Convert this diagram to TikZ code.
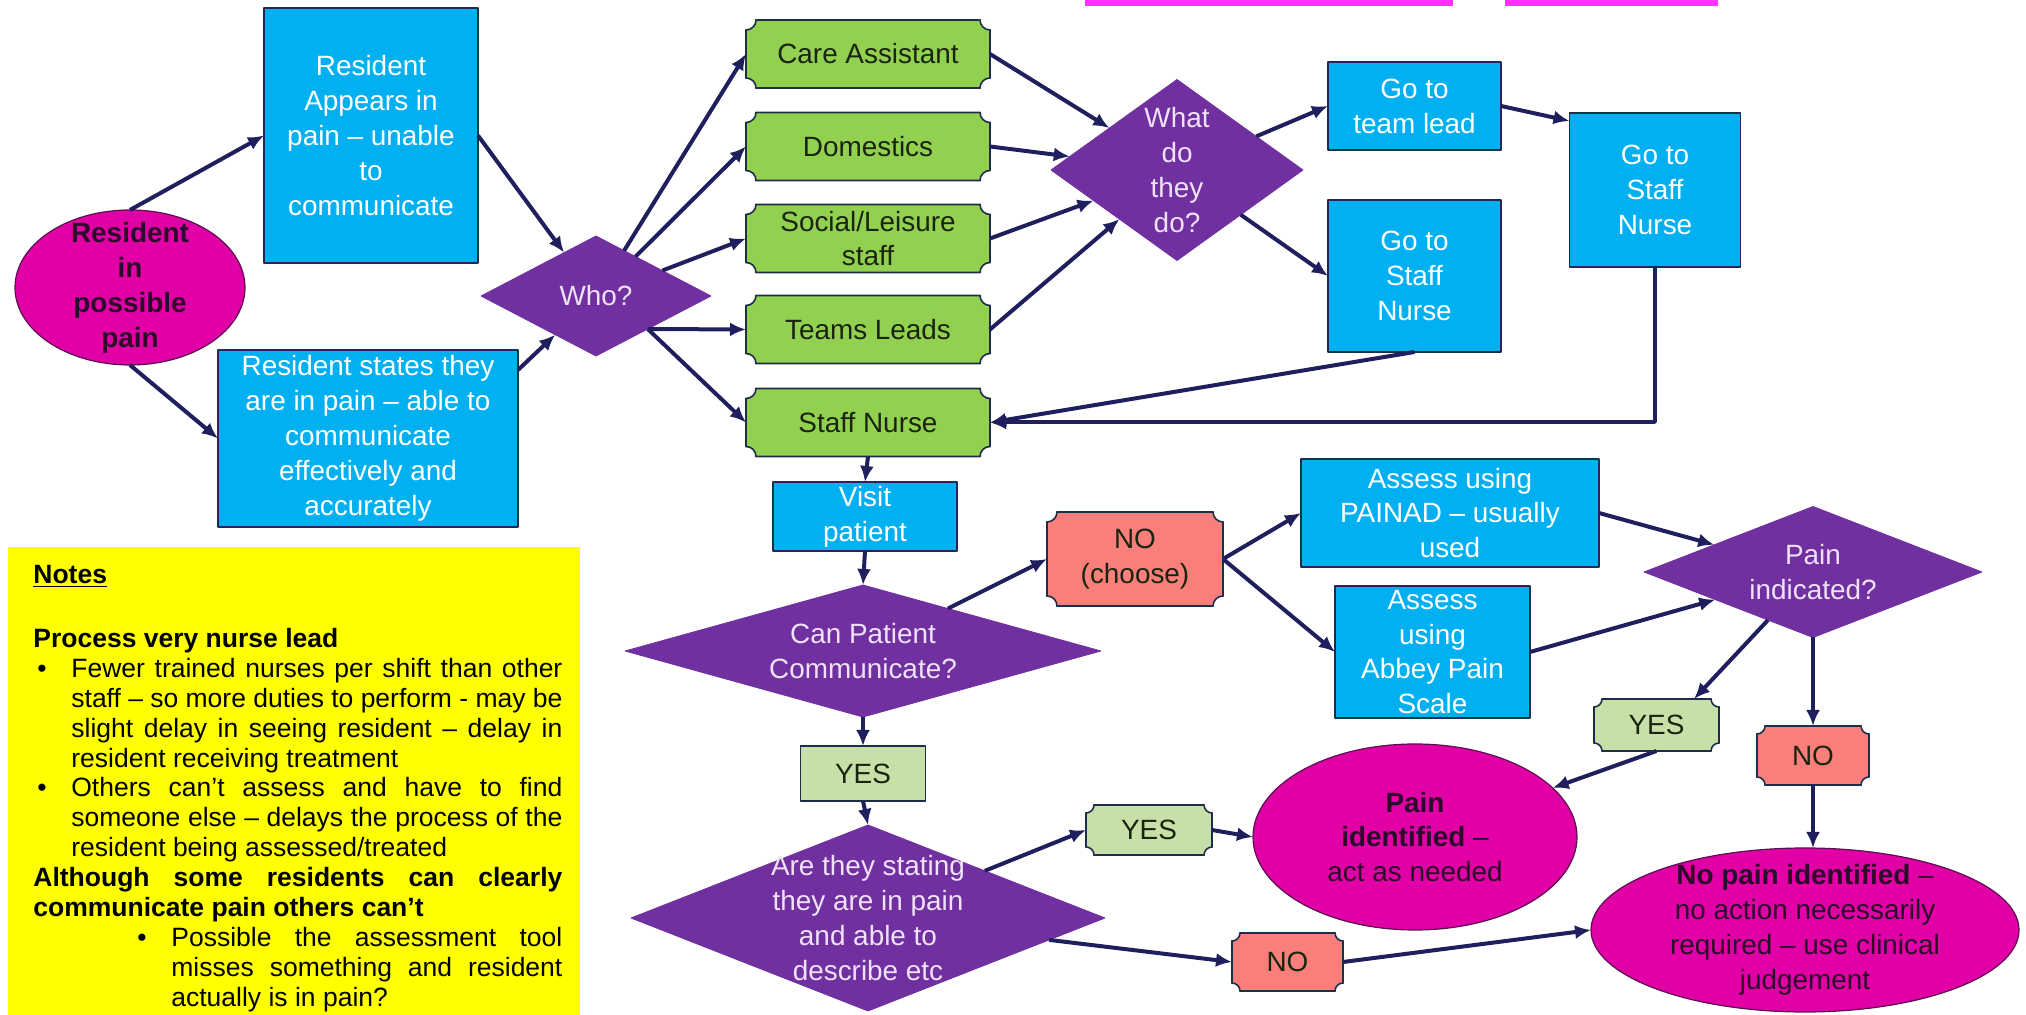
\documentclass[tikz,border=0pt]{standalone}
\usepackage{fontspec}
\setmainfont{Liberation Sans}
\usetikzlibrary{shapes.geometric,arrows.meta,calc,backgrounds}
\definecolor{arrownavy}{HTML}{1F1F5E}
\definecolor{boxline}{HTML}{1F2D4D}
\definecolor{cyanblue}{HTML}{00B0F0}
\definecolor{staffgreen}{HTML}{92D050}
\definecolor{paleyes}{HTML}{C6E0A8}
\definecolor{nosalmon}{HTML}{F9807A}
\definecolor{decpurple}{HTML}{7030A0}
\definecolor{lavender}{HTML}{F0E1FA}
\definecolor{bubblemag}{HTML}{E000A5}
\definecolor{bubbleline}{HTML}{5A1050}
\definecolor{bubbleink}{HTML}{2B0A2A}
\definecolor{darkink}{HTML}{1A2410}
\definecolor{notefill}{HTML}{FFFF00}
\definecolor{hilite}{HTML}{FF33FF}
\newcommand{\notebullet}[2]{\par\noindent\hangindent=#2\hangafter=1\makebox[#2][l]{\hspace{#1}\textbullet}\ignorespaces}
\begin{document}
\begin{tikzpicture}[>={Latex[length=8bp,width=7bp]},line join=bevel,
  bodyfont/.style={font=\fontsize{14}{17.5}\selectfont},
  bluebox/.style={rectangle,draw=boxline,line width=0.8bp,fill=cyanblue,text=white,align=center,inner sep=0pt,outer sep=0pt,bodyfont},
  staffbox/.style={rectangle,inner sep=0pt,outer sep=0pt,align=center,text=darkink,bodyfont},
  yesbox/.style={rectangle,draw=boxline,line width=0.8bp,fill=paleyes,inner sep=0pt,outer sep=0pt,text=darkink,bodyfont},
  decision/.style={diamond,fill=decpurple,draw=decpurple,inner sep=0pt,outer sep=0pt},
  dectext/.style={align=center,text=lavender,inner sep=0pt,bodyfont},
  bubble/.style={ellipse,fill=bubblemag,draw=bubbleline,line width=0.6bp,inner sep=0pt,outer sep=0pt},
  bubbletext/.style={align=center,text=bubbleink,inner sep=0pt,bodyfont},
  notetext/.style={text width=264.5bp,align=justify,inner sep=0pt,text=black,font=\fontsize{13.3}{15}\selectfont},
  plaque/.style={draw=boxline,line width=0.8bp,fill=#1},
  flow/.style={draw=arrownavy,line width=2bp,->},
]
%%
\useasboundingbox (0bp,0bp) rectangle (1013bp,507.5bp);
\fill [hilite] (542.5bp,504.5bp) rectangle (726.5bp,507.5bp);
\fill [hilite] (752.5bp,504.5bp) rectangle (859.0bp,507.5bp);
\fill [notefill] (4.0bp,0bp) rectangle (290.0bp,234.0bp);
\node (notes) at (16.5bp,225.0bp) [notetext,anchor=north west] {%
  \hyphenpenalty=10000\exhyphenpenalty=10000
  \textbf{\underline{Notes}}\par
  \vspace{17bp}
  \textbf{Process very nurse lead}\par
  \notebullet{2bp}{19bp}Fewer trained nurses per shift than other staff -- so more duties to perform - may be slight delay in seeing resident -- delay in resident receiving treatment\par
  \notebullet{2bp}{19bp}Others can't assess and have to find someone else -- delays the process of the resident being assessed/treated\par
  \textbf{Although some residents can clearly communicate pain others can't}\par
  \notebullet{52bp}{69bp}Possible the assessment tool misses something and resident actually is in pain?\par};
%
\node (res_pain) at (65.0bp,363.75bp) [bubble,minimum width=115bp,minimum height=77.5bp,label={[bubbletext,font=\fontsize{14}{17.5}\selectfont\bfseries,name=res_pain_txt]center:{Resident\\in\\possible\\pain}}] {};
  \node (res_appears) at (185.5bp,439.75bp) [bluebox,minimum width=107bp,minimum height=127.5bp] {Resident\\Appears in\\pain -- unable\\to\\communicate};
  \node (res_states) at (184.0bp,288.25bp) [bluebox,minimum width=150bp,minimum height=88.5bp] {Resident states they\\are in pain -- able to\\communicate\\effectively and\\accurately};
  \node (who) at (298.0bp,359.5bp) [decision,minimum width=115bp,minimum height=60bp,label={[dectext,name=who_txt]center:Who?}] {};
  \node (care_asst) at (434.0bp,480.5bp) [staffbox,minimum width=122bp,minimum height=34bp] {Care Assistant};
  \node (domestics) at (434.0bp,434.25bp) [staffbox,minimum width=122bp,minimum height=34bp] {Domestics};
  \node (social) at (434.0bp,388.25bp) [staffbox,minimum width=122bp,minimum height=34bp] {Social/Leisure\\staff};
  \node (team_leads) at (434.0bp,342.75bp) [staffbox,minimum width=122bp,minimum height=34bp] {Teams Leads};
  \node (staff_nurse) at (434.0bp,296.25bp) [staffbox,minimum width=122bp,minimum height=34bp] {Staff Nurse};
  \node (what_do) at (588.5bp,422.5bp) [decision,minimum width=126bp,minimum height=90.5bp,label={[dectext,name=what_do_txt]center:{What\\do\\they\\do?}}] {};
  \node (goto_lead) at (707.25bp,454.5bp) [bluebox,minimum width=86.5bp,minimum height=44bp] {Go to\\team lead};
  \node (goto_nurse_a) at (707.25bp,369.5bp) [bluebox,minimum width=86.5bp,minimum height=76bp] {Go to\\Staff\\Nurse};
  \node (goto_nurse_b) at (827.5bp,412.5bp) [bluebox,minimum width=85.5bp,minimum height=77bp] {Go to\\Staff\\Nurse};
  \node (visit) at (432.5bp,249.25bp) [bluebox,minimum width=92bp,minimum height=34.5bp] {Visit\\patient};
  \node (can_comm) at (431.5bp,182.0bp) [decision,minimum width=238bp,minimum height=66bp,label={[dectext,name=can_comm_txt]center:{Can Patient\\Communicate?}}] {};
  \node (yes_a) at (431.5bp,120.75bp) [yesbox,minimum width=62.5bp,minimum height=27.5bp] {YES};
  \node (stating) at (434.0bp,48.5bp) [decision,minimum width=237bp,minimum height=93bp,label={[dectext,name=stating_txt]center:{Are they stating\\they are in pain\\and able to\\describe etc}}] {};
  \node (no_choose) at (567.5bp,228.0bp) [staffbox,minimum width=88bp,minimum height=47bp] {NO\\(choose)};
  \node (painad) at (725.0bp,251.0bp) [bluebox,minimum width=149bp,minimum height=54bp] {Assess using\\PAINAD -- usually\\used};
  \node (abbey) at (716.25bp,181.5bp) [bluebox,minimum width=97.5bp,minimum height=66bp] {Assess\\using\\Abbey Pain\\Scale};
  \node (pain_ind) at (906.5bp,221.5bp) [decision,minimum width=169bp,minimum height=65.5bp,label={[dectext,name=pain_ind_txt]center:{Pain\\indicated?}}] {};
  \node (yes_b) at (828.25bp,145.0bp) [staffbox,minimum width=62.5bp,minimum height=26bp] {YES};
  \node (no_b) at (906.5bp,129.75bp) [staffbox,minimum width=56bp,minimum height=29.5bp] {NO};
  \node (pain_id) at (707.5bp,89.0bp) [bubble,minimum width=162bp,minimum height=93bp,label={[bubbletext,name=pain_id_txt]center:{\textbf{Pain}\\\textbf{identified} --\\act as needed}}] {};
  \node (no_pain) at (902.5bp,42.5bp) [bubble,minimum width=214bp,minimum height=82bp,label={[bubbletext,name=no_pain_txt]center:{\textbf{No pain identified} --\\no action necessarily\\required -- use clinical\\judgement}}] {};
  \node (yes_c) at (574.5bp,92.5bp) [staffbox,minimum width=63bp,minimum height=25bp] {YES};
  \node (no_c) at (643.75bp,26.5bp) [staffbox,minimum width=55.5bp,minimum height=29bp] {NO};
%
\begin{scope}[on background layer]
\foreach \nd/\clr/\rr in {care_asst/staffgreen/5bp,domestics/staffgreen/5bp,social/staffgreen/5bp,team_leads/staffgreen/5bp,staff_nurse/staffgreen/5bp,no_choose/nosalmon/5bp,no_b/nosalmon/4bp,no_c/nosalmon/4bp,yes_b/paleyes/4bp,yes_c/paleyes/4bp}
  \path [plaque=\clr] ($(\nd.north west)+(0,-\rr)$) arc [start angle=-90,end angle=0,radius=\rr] -- ($(\nd.north east)+(-\rr,0)$) arc [start angle=180,end angle=270,radius=\rr] -- ($(\nd.south east)+(0,\rr)$) arc [start angle=90,end angle=180,radius=\rr] -- ($(\nd.south west)+(\rr,0)$) arc [start angle=0,end angle=90,radius=\rr] -- cycle;
\end{scope}
%
\coordinate (states_out) at ($(res_states.north east)+(0bp,-10bp)$);
\coordinate (who_low) at ($(who.east)!0.55!(who.south)$);
\coordinate (nurse_b_in) at ($(goto_nurse_b.north west)+(0bp,-4bp)$);
\coordinate (yes_b_in) at ($(yes_b.north)!0.6!(yes_b.north east)$);
\draw [flow] (res_pain.north) -- (res_appears.west);
\draw [flow] (res_pain.south) -- (res_states.west);
\draw [flow] (res_appears.east) -- (who);
\draw [flow] (states_out) -- (who);
\draw [flow] (who) -- (care_asst.west);
\draw [flow] (who) -- (domestics.west);
\draw [flow] (who) -- (social.west);
\draw [flow] (who_low) -- (team_leads.west);
\draw [flow] (who_low) -- (staff_nurse.west);
\draw [flow] (care_asst.east) -- (what_do);
\draw [flow] (domestics.east) -- (what_do);
\draw [flow] (social.east) -- (what_do);
\draw [flow] (team_leads.east) -- (what_do);
\draw [flow] (what_do) -- (goto_lead.west);
\draw [flow] (what_do) -- (goto_nurse_a.west);
\draw [flow] (goto_lead.east) -- (nurse_b_in);
\draw [flow] (goto_nurse_b.south) |- (staff_nurse.east);
\draw [flow] (goto_nurse_a.south) -- (staff_nurse.east);
\draw [flow] (staff_nurse.south) -- (visit.north);
\draw [flow] (visit.south) -- (can_comm.north);
\draw [flow] (can_comm.south) -- (yes_a.north);
\draw [flow] (yes_a.south) -- (stating.north);
\draw [flow] (can_comm) -- (no_choose.west);
\draw [flow] (no_choose.east) -- (painad.west);
\draw [flow] (no_choose.east) -- (abbey.west);
\draw [flow] (painad.east) -- (pain_ind);
\draw [flow] (abbey.east) -- (pain_ind);
\draw [flow] (pain_ind) -- (yes_b_in);
\draw [flow] (pain_ind.south) -- (no_b.north);
\draw [flow] (yes_b.south) -- (pain_id);
\draw [flow] (no_b.south) -- (no_b.south |- no_pain.north);
\draw [flow] (stating) -- (yes_c.west);
\draw [flow] (yes_c.east) -- (pain_id.west);
\draw [flow] (stating) -- (no_c.west);
\draw [flow] (no_c.east) -- (no_pain.west);
%
\end{tikzpicture}
\end{document}
